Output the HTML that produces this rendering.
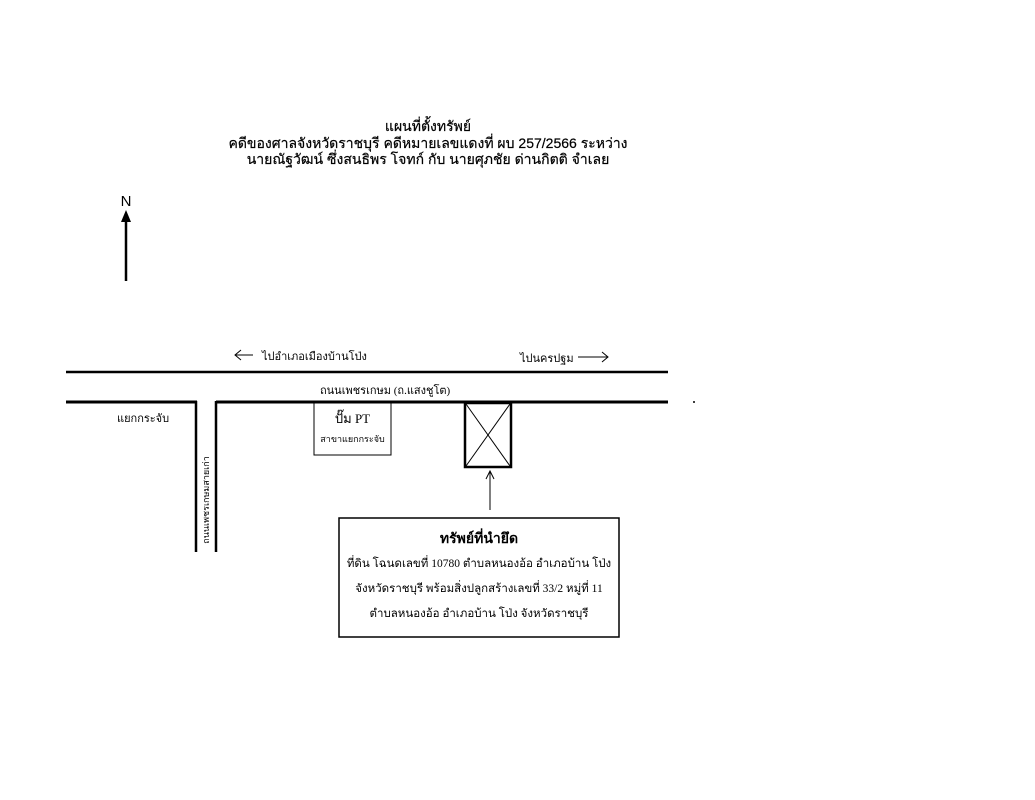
<!DOCTYPE html>
<html><head><meta charset="utf-8"><style>
body{margin:0;width:1035px;height:800px;background:#fff;position:relative;overflow:hidden;font-family:"Liberation Sans","Noto Sans CJK SC",sans-serif;color:#000}
.t{position:absolute;white-space:nowrap}
.s{font-family:"Liberation Serif","Noto Serif CJK SC",serif}
</style></head><body>
<div class="t" style="left:208px;top:118px;width:440px;text-align:center;font-size:14px;line-height:16.5px;-webkit-text-stroke:0.2px #000">แผนที่ตั้งทรัพย์<br>คดีของศาลจังหวัดราชบุรี คดีหมายเลขแดงที่ ผบ 257/2566 ระหว่าง<br>นายณัฐวัฒน์ ซึ่งสนธิพร โจทก์ กับ นายศุภชัย ด่านกิตติ จำเลย</div>
<svg width="1035" height="800" style="position:absolute;left:0;top:0">
<text x="126" y="206" font-size="15" text-anchor="middle" font-family="Liberation Sans">N</text>
<line x1="126" y1="281" x2="126" y2="218" stroke="#000" stroke-width="2.5"/>
<path d="M121 222 L126 210 L131 222 Z" fill="#000"/>
<line x1="66" y1="372" x2="668" y2="372" stroke="#000" stroke-width="2.5"/>
<line x1="66" y1="402" x2="197" y2="402" stroke="#000" stroke-width="3"/>
<line x1="216" y1="402" x2="668" y2="402" stroke="#000" stroke-width="3"/>
<line x1="196" y1="401" x2="196" y2="552" stroke="#000" stroke-width="2.5"/>
<line x1="216" y1="401" x2="216" y2="552" stroke="#000" stroke-width="2.5"/>
<rect x="314" y="403" width="77" height="52" fill="none" stroke="#000" stroke-width="1"/>
<rect x="465" y="403" width="46" height="64" fill="none" stroke="#000" stroke-width="2.5"/>
<line x1="466" y1="404" x2="510" y2="466" stroke="#000" stroke-width="1"/>
<line x1="510" y1="404" x2="466" y2="466" stroke="#000" stroke-width="1"/>
<line x1="490" y1="510" x2="490" y2="472" stroke="#000" stroke-width="1"/>
<path d="M486 479 L490 471 L494 479" fill="none" stroke="#000" stroke-width="1"/>
<rect x="339" y="518" width="280" height="119" fill="none" stroke="#000" stroke-width="1.5"/>
<line x1="235" y1="355" x2="253" y2="355" stroke="#000" stroke-width="1"/>
<path d="M241 350 L235 355 L241 360" fill="none" stroke="#000" stroke-width="1"/>
<line x1="578" y1="357" x2="608" y2="357" stroke="#000" stroke-width="1"/>
<path d="M602 352 L608 357 L602 362" fill="none" stroke="#000" stroke-width="1"/>
<circle cx="694" cy="402" r="1" fill="#000"/>
</svg>
<div class="t s" style="left:262px;top:347px;font-size:11px">ไปอำเภอเมืองบ้านโป่ง</div>
<div class="t s" style="left:520px;top:349px;font-size:11px">ไปนครปฐม</div>
<div class="t s" style="left:320px;top:381px;font-size:11px">ถนนเพชรเกษม (ถ.แสงชูโต)</div>
<div class="t s" style="left:117px;top:409px;font-size:11px">แยกกระจับ</div>
<div class="t s" style="left:314px;top:408px;width:77px;text-align:center;font-size:13px">ปั๊ม PT</div>
<div class="t s" style="left:314px;top:432px;width:77px;text-align:center;font-size:9px">สาขาแยกกระจับ</div>
<div class="t s" style="left:206px;top:500px;font-size:9px;transform:translate(-50%,-50%) rotate(-90deg)">ถนนเพชรเกษมสายเก่า</div>
<div class="t s" style="left:339px;top:528px;width:280px;text-align:center;font-size:14px;font-weight:bold">ทรัพย์ที่นำยึด</div>
<div class="t s" style="left:339px;top:552px;width:280px;text-align:center;font-size:11.5px;line-height:25px">ที่ดิน โฉนดเลขที่  10780 ตำบลหนองอ้อ อำเภอบ้าน โป่ง<br>จังหวัดราชบุรี พร้อมสิ่งปลูกสร้างเลขที่ 33/2 หมู่ที่ 11<br>ตำบลหนองอ้อ อำเภอบ้าน โป่ง จังหวัดราชบุรี</div>
</body></html>
